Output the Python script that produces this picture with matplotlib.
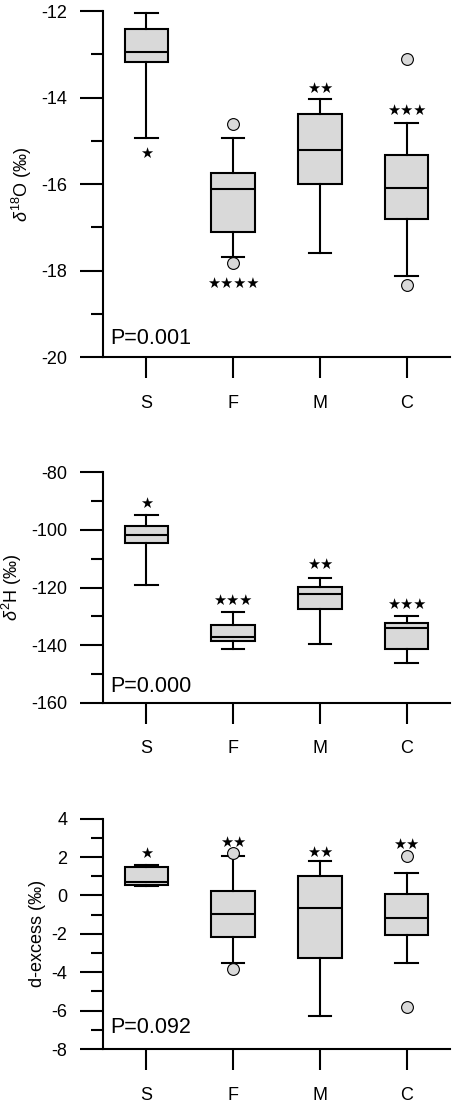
import matplotlib
matplotlib.use("Agg")
import matplotlib.pyplot as plt
from matplotlib.ticker import MultipleLocator

plt.rcParams['font.family'] = ['Liberation Sans', 'DejaVu Sans']
plt.rcParams['mathtext.fontset'] = 'custom'
plt.rcParams['mathtext.rm'] = 'Liberation Sans'
plt.rcParams['mathtext.it'] = 'Liberation Sans:italic'
plt.rcParams['axes.unicode_minus'] = False

groups = ["S", "F", "M", "C"]

# delta 18O
o_whislo = [-14.93, -17.69, -17.59, -18.13]
o_q1 = [-13.17, -17.12, -16.01, -16.81]
o_med = [-12.94, -16.12, -15.22, -16.10]
o_q3 = [-12.42, -15.74, -14.37, -15.32]
o_whishi = [-12.05, -14.93, -14.04, -14.58]
o_fliers = [[], [-14.61, -17.83], [], [-13.11, -18.33]]
o_stars = ["★", "★★★★", "★★", "★★★"]
o_star_y = [-15.3, -18.3, -13.8, -14.29]

# delta 2H
h_whislo = [-119.0, -141.2, -139.7, -146.0]
h_q1 = [-104.7, -138.4, -127.3, -141.2]
h_med = [-101.7, -137.2, -122.2, -133.9]
h_q3 = [-98.5, -132.9, -119.65, -132.4]
h_whishi = [-94.8, -128.4, -116.5, -129.9]
h_fliers = [[], [], [], []]
h_stars = ["★", "★★★", "★★", "★★★"]
h_star_y = [-90.75, -124.3, -111.8, -125.7]

# d-excess
d_whislo = [0.49, -3.52, -6.30, -3.51]
d_q1 = [0.56, -2.14, -3.25, -2.08]
d_med = [0.71, -0.95, -0.64, -1.16]
d_q3 = [1.51, 0.24, 0.99, 0.10]
d_whishi = [1.58, 2.08, 1.79, 1.15]
d_fliers = [[], [2.22, -3.84], [], [2.05, -5.80]]
d_stars = ["★", "★★", "★★", "★★"]
d_star_y = [2.2, 2.78, 2.26, 2.66]

panels = [
    dict(whislo=o_whislo, q1=o_q1, med=o_med, q3=o_q3, whishi=o_whishi, fliers=o_fliers,
         stars=o_stars, star_y=o_star_y, ylim=(-20, -12), major=2, minor=1,
         ylabel=r"$\delta^{18}$O (‰)", labelx=-0.199, ptext="P=0.001", py=0.055,
         rect=[0.2254, 0.6766, 0.7593, 0.3134]),
    dict(whislo=h_whislo, q1=h_q1, med=h_med, q3=h_q3, whishi=h_whishi, fliers=h_fliers,
         stars=h_stars, star_y=h_star_y, ylim=(-160, -80), major=20, minor=10,
         ylabel=r"$\delta^{2}$H (‰)", labelx=-0.228, ptext="P=0.000", py=0.073,
         rect=[0.2254, 0.3633, 0.7593, 0.2089]),
    dict(whislo=d_whislo, q1=d_q1, med=d_med, q3=d_q3, whishi=d_whishi, fliers=d_fliers,
         stars=d_stars, star_y=d_star_y, ylim=(-8, 4), major=2, minor=1,
         ylabel="d-excess (‰)", labelx=-0.164, ptext="P=0.092", py=0.094,
         rect=[0.2254, 0.0498, 0.7593, 0.2086]),
]

fig = plt.figure(figsize=(4.57, 11.04), dpi=100)
positions = [1, 2, 3, 4]

for p in panels:
    ax = fig.add_axes(p["rect"])
    stats = []
    for i, g in enumerate(groups):
        stats.append(dict(label=g, whislo=p["whislo"][i], q1=p["q1"][i], med=p["med"][i],
                          q3=p["q3"][i], whishi=p["whishi"][i], fliers=p["fliers"][i]))
    ax.bxp(stats, positions=positions, widths=0.5, capwidths=0.26, patch_artist=True,
           boxprops=dict(facecolor='#d9d9d9', edgecolor='black', linewidth=1.5),
           medianprops=dict(color='black', linewidth=1.5),
           whiskerprops=dict(color='black', linewidth=1.5),
           capprops=dict(color='black', linewidth=1.5),
           flierprops=dict(marker='o', markerfacecolor='#d9d9d9', markeredgecolor='black',
                           markersize=8.5, markeredgewidth=0.8))
    for x, s, y in zip(positions, p["stars"], p["star_y"]):
        ax.text(x, y, s, ha='center', va='center', fontsize=10.5, family='DejaVu Sans')

    ax.set_xlim(0.5, 4.5)
    ax.set_ylim(*p["ylim"])
    ax.yaxis.set_major_locator(MultipleLocator(p["major"]))
    ax.yaxis.set_minor_locator(MultipleLocator(p["minor"]))
    ax.set_xticks(positions)
    ax.set_xticklabels(groups)
    ax.spines['top'].set_visible(False)
    ax.spines['right'].set_visible(False)
    ax.spines['left'].set_linewidth(1.5)
    ax.spines['bottom'].set_linewidth(1.5)
    ax.tick_params(axis='y', which='major', length=16.5, width=1.5, pad=9, labelsize=13)
    ax.tick_params(axis='y', which='minor', length=8.5, width=1.5)
    ax.tick_params(axis='x', which='major', length=15, width=1.5, pad=12, labelsize=13)
    ax.set_ylabel(p["ylabel"], fontsize=13)
    ax.yaxis.set_label_coords(p["labelx"], 0.5)
    ax.text(0.02, p["py"], p["ptext"], transform=ax.transAxes, ha='left', va='center',
            fontsize=15.5)

fig.savefig("out.png", dpi=100)
